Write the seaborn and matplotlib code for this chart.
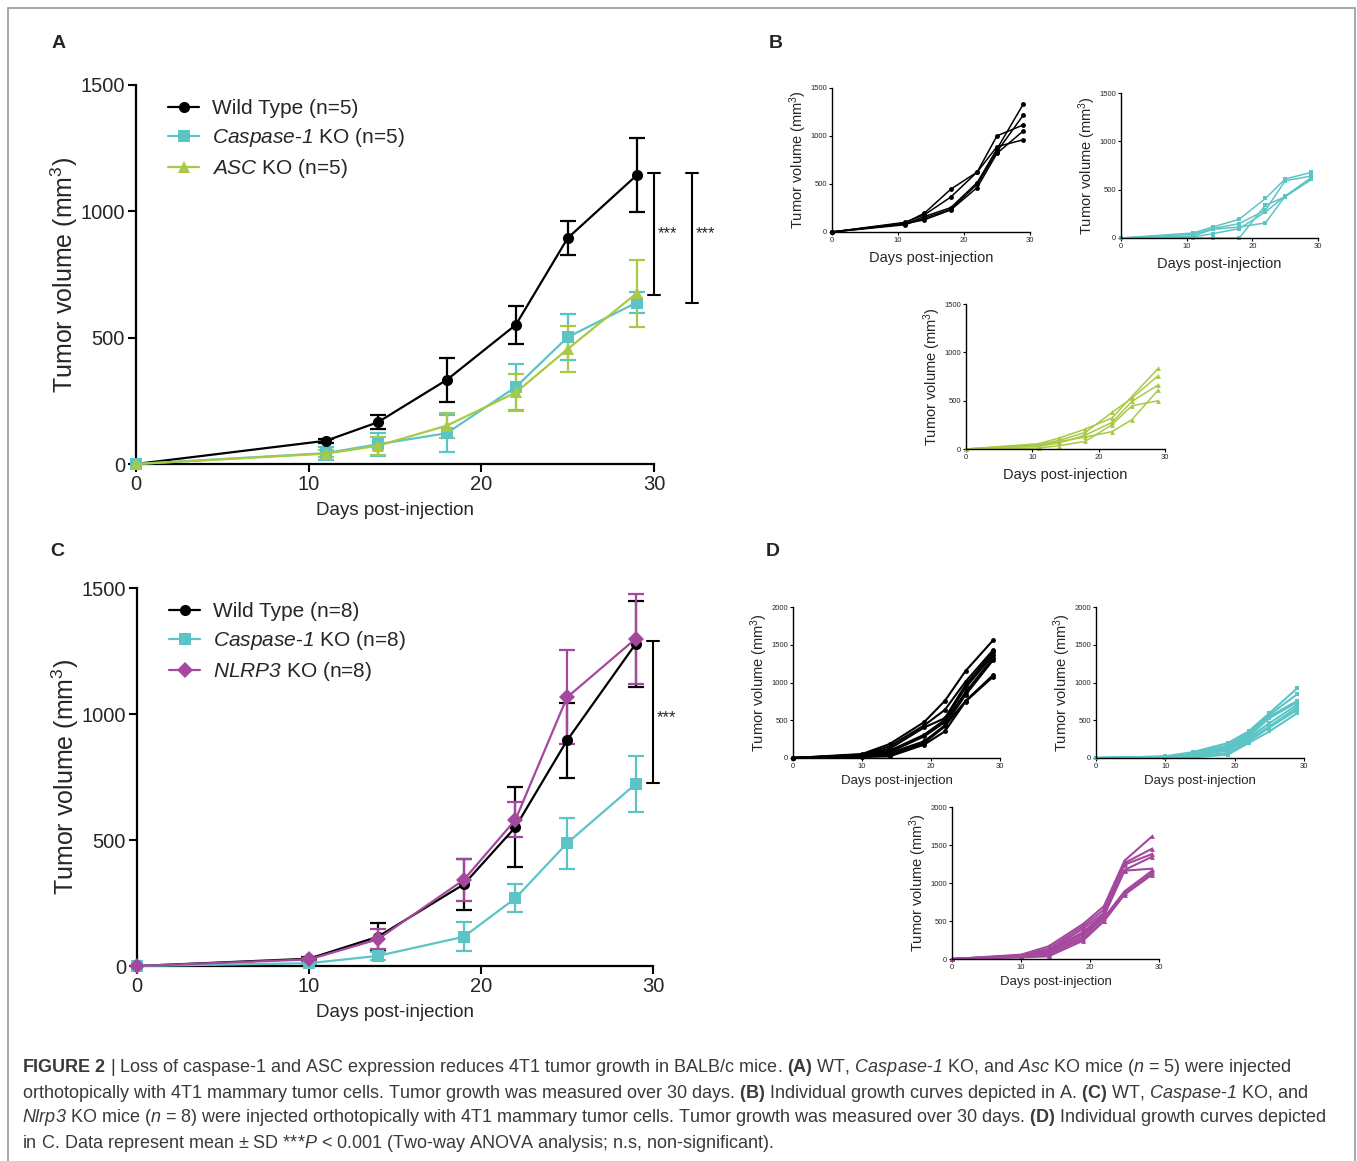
import numpy as np
import pandas as pd
import seaborn as sns
import matplotlib.pyplot as plt
from matplotlib.lines import Line2D
from matplotlib.patches import Rectangle

# ---- data ----
days_A = [0, 11, 14, 18, 22, 25, 29]
wt_A = [0, 92, 165, 333, 551, 894, 1143]
wt_A_sd = [0, 8, 27, 88, 75, 66, 147]
casp_A = [0, 43, 78, 122, 305, 502, 639]
casp_A_sd = [0, 26, 46, 73, 91, 92, 40]
asc_A = [0, 41, 72, 152, 283, 455, 676]
asc_A_sd = [0, 15, 35, 48, 72, 92, 133]

days_C = [0, 10, 14, 19, 22, 25, 29]
wt_C = [0, 29, 116, 324, 551, 895, 1279]
wt_C_sd = [0, 6, 53, 100, 159, 148, 171]
casp_C = [0, 11, 40, 116, 269, 487, 723]
casp_C_sd = [0, 4, 15, 57, 56, 101, 110]
nlrp3_C = [0, 26, 106, 342, 580, 1066, 1299]
nlrp3_C_sd = [0, 6, 40, 84, 69, 186, 179]

# individual mice, panel B (days_A)
wt_B = [[0, 93, 196, 446, 625, 1002, 1116],
        [0, 100, 179, 364, 625, 889, 961],
        [0, 82, 161, 254, 515, 865, 1335],
        [0, 75, 144, 237, 498, 838, 1219],
        [0, 86, 127, 230, 463, 820, 1054]]
casp_B = [[0, 52, 114, 194, 409, 610, 679],
          [0, 38, 97, 149, 288, 592, 641],
          [0, 21, 90, 114, 156, 433, 627],
          [0, 10, 45, 97, 270, 433, 610],
          [0, 0, 0, 0, 339, 426, 606]]
asc_B = [[0, 55, 113, 206, 320, 543, 836],
         [0, 45, 89, 172, 378, 526, 760],
         [0, 28, 62, 144, 275, 492, 664],
         [0, 34, 76, 124, 179, 303, 612],
         [0, 10, 34, 79, 251, 447, 499]]

# individual mice, panel D (days_C)
wt_D = [[0, 53, 185, 475, 756, 1152, 1560],
        [0, 44, 154, 431, 637, 1011, 1429],
        [0, 40, 123, 404, 527, 967, 1398],
        [0, 35, 97, 308, 505, 932, 1363],
        [0, 31, 79, 286, 475, 870, 1327],
        [0, 26, 66, 220, 431, 835, 1297],
        [0, 18, 44, 198, 418, 756, 1099],
        [0, 13, 22, 176, 352, 747, 1077]]
casp_D = [[0, 22, 79, 198, 352, 593, 923],
          [0, 18, 66, 167, 330, 571, 844],
          [0, 13, 62, 154, 308, 549, 756],
          [0, 13, 53, 132, 286, 527, 738],
          [0, 9, 44, 110, 264, 462, 703],
          [0, 9, 35, 97, 242, 418, 668],
          [0, 4, 22, 66, 220, 404, 637],
          [0, 4, 9, 44, 198, 352, 593]]
nlrp3_D = [[0, 57, 167, 461, 693, 1294, 1614],
           [0, 48, 136, 430, 649, 1263, 1452],
           [0, 44, 110, 399, 605, 1241, 1382],
           [0, 39, 101, 355, 583, 1171, 1346],
           [0, 35, 88, 329, 561, 1162, 1189],
           [0, 31, 66, 298, 539, 890, 1162],
           [0, 26, 57, 268, 504, 868, 1132],
           [0, 22, 35, 241, 496, 846, 1110]]

BLACK = '#000000'
CYAN = '#5cc4c4'
GREEN = '#a8c946'
PURPLE = '#a4489e'

sns.set_theme(style='ticks')
plt.rcParams['font.family'] = ['Liberation Sans', 'DejaVu Sans']
plt.rcParams['mathtext.fontset'] = 'custom'
plt.rcParams['mathtext.rm'] = 'Liberation Sans'
plt.rcParams['mathtext.it'] = 'Liberation Sans:italic'
plt.rcParams['mathtext.sf'] = 'Liberation Sans:italic'   # \mathsf = italic, digits included
plt.rcParams['mathtext.bf'] = 'Liberation Sans:bold'

W, H = 1357, 1161
fig = plt.figure(figsize=(W / 100, H / 100), dpi=100)


def px_axes(l, r, t, b):
    return fig.add_axes([l / W, 1 - b / H, (r - l) / W, (b - t) / H])


def long_frame(days, series):
    rows = []
    for name, vals in series:
        for d, v in zip(days, vals):
            rows.append((name, d, v))
    return pd.DataFrame(rows, columns=['group', 'day', 'vol'])


def main_panel(ax, days, groups, legend_labels):
    # groups: list of (name, mean, sd, color, marker)
    df = long_frame(days, [(g[0], g[1]) for g in groups])
    sns.lineplot(data=df, x='day', y='vol', hue='group', style='group',
                 palette={g[0]: g[3] for g in groups},
                 markers={g[0]: g[4] for g in groups}, dashes=False,
                 markersize=8, markeredgewidth=0, linewidth=1.6,
                 legend=False, clip_on=False, zorder=3, ax=ax)
    for name, mean, sd, col, mk in groups:
        d = np.array(days)
        m = np.array(mean)
        s = np.array(sd)
        keep = s > 0
        ax.errorbar(d[keep], m[keep], yerr=s[keep], fmt='none', ecolor=col,
                    elinewidth=1.6, capsize=6, capthick=1.6, clip_on=False, zorder=2)
    ax.set_xlim(0, 30)
    ax.set_ylim(0, 1500)
    ax.set_xticks([0, 10, 20, 30])
    ax.set_yticks([0, 500, 1000, 1500])
    ax.tick_params(labelsize=14.5, length=6, width=1.5, pad=2, color='black')
    for sp in ['left', 'bottom']:
        ax.spines[sp].set_linewidth(1.6)
        ax.spines[sp].set_color('black')
    sns.despine(ax=ax)
    ax.set_xlabel('Days post-injection', fontsize=13.5, labelpad=6)
    ax.set_ylabel('Tumor volume (mm$^3$)', fontsize=18, labelpad=0)
    handles = [Line2D([], [], color=g[3], marker=g[4], markersize=8,
                      markeredgewidth=0, linewidth=1.6) for g in groups]
    ax.legend(handles, legend_labels, loc='upper left', bbox_to_anchor=(0.062, 0.962),
              frameon=False, fontsize=15, handlelength=1.5, handletextpad=0.6,
              labelspacing=0.38, borderpad=0, borderaxespad=0)


def bracket(ax, x, y0, y1, ytext):
    ax.plot([x, x], [y0, y1], color='black', lw=1.5, clip_on=False)
    ax.plot([x - 0.35, x + 0.35], [y0, y0], color='black', lw=1.5, clip_on=False)
    ax.plot([x - 0.35, x + 0.35], [y1, y1], color='black', lw=1.5, clip_on=False)
    ax.text(x + 0.2, ytext, '***', fontsize=12, ha='left', va='center')


def small_panel(ax, days, mice, color, marker, ymax, lw):
    df = long_frame(days, [(i, v) for i, v in enumerate(mice)])
    sns.lineplot(data=df, x='day', y='vol', units='group', estimator=None,
                 color=color, marker=marker, markersize=3.5, markeredgewidth=0,
                 linewidth=lw, clip_on=False, ax=ax)
    ax.set_xlim(0, 30)
    ax.set_ylim(0, ymax)
    ax.set_xticks([0, 10, 20, 30])
    ax.set_yticks(np.arange(0, ymax + 1, 500))
    ax.tick_params(labelsize=5.5, length=2.5, width=0.8, pad=1, color='black')
    for sp in ['left', 'bottom']:
        ax.spines[sp].set_linewidth(1.0)
        ax.spines[sp].set_color('black')
    sns.despine(ax=ax)
    ax.set_ylabel('Tumor volume (mm$^3$)', fontsize=10.5, labelpad=1)


# ---- panel A ----
axA = px_axes(136, 654, 85, 464)
main_panel(axA, days_A,
           [('wt', wt_A, wt_A_sd, BLACK, 'o'),
            ('casp', casp_A, casp_A_sd, CYAN, 's'),
            ('asc', asc_A, asc_A_sd, GREEN, '^')],
           ['Wild Type (n=5)', r'$\mathsf{Caspase}$-$\mathsf{1}$ KO (n=5)',
            r'$\mathsf{ASC}$ KO (n=5)'])
bracket(axA, 30, 1153, 667, 910)
bracket(axA, 32.2, 1153, 639, 910)

# ---- panel C ----
axC = px_axes(137, 653, 588, 966)
main_panel(axC, days_C,
           [('wt', wt_C, wt_C_sd, BLACK, 'o'),
            ('casp', casp_C, casp_C_sd, CYAN, 's'),
            ('nlrp3', nlrp3_C, nlrp3_C_sd, PURPLE, 'D')],
           ['Wild Type (n=8)', r'$\mathsf{Caspase}$-$\mathsf{1}$ KO (n=8)',
            r'$\mathsf{NLRP3}$ KO (n=8)'])
bracket(axC, 30, 1288, 728, 985)

# ---- panel B ----
axB1 = px_axes(832, 1030, 88, 232)
small_panel(axB1, days_A, wt_B, BLACK, 'o', 1500, 1.1)
axB2 = px_axes(1121, 1318, 93, 238)
small_panel(axB2, days_A, casp_B, CYAN, 's', 1500, 1.1)
axB3 = px_axes(966, 1165, 304, 449)
small_panel(axB3, days_A, asc_B, GREEN, '^', 1500, 1.1)
for a in [axB1, axB2, axB3]:
    a.set_xlabel('Days post-injection', fontsize=10.5, labelpad=5)

# ---- panel D ----
axD1 = px_axes(793, 1000, 607, 758)
small_panel(axD1, days_C, wt_D, BLACK, 'o', 2000, 1.5)
axD2 = px_axes(1096, 1304, 607, 758)
small_panel(axD2, days_C, casp_D, CYAN, 's', 2000, 1.5)
axD3 = px_axes(952, 1159, 807, 959)
small_panel(axD3, days_C, nlrp3_D, PURPLE, '^', 2000, 1.5)
for a in [axD1, axD2, axD3]:
    a.set_xlabel('Days post-injection', fontsize=9.5, labelpad=4)

# ---- panel letters ----
for lab, x, y in [('A', 59, 44), ('B', 776, 44), ('C', 57, 551), ('D', 773, 551)]:
    fig.text(x / W, 1 - y / H, lab, fontsize=14, fontweight='bold',
             ha='center', va='center')

# ---- caption ----
caption = [
    r'$\mathbf{FIGURE\ 2}$ | Loss of caspase-1 and ASC expression reduces 4T1 tumor growth in BALB/c mice. '
    r'$\mathbf{(A)}$ WT, $\mathsf{Caspase}$-$\mathsf{1}$ KO, and $\mathsf{Asc}$ KO mice ($\mathsf{n}$ = 5) were injected',
    r'orthotopically with 4T1 mammary tumor cells. Tumor growth was measured over 30 days. '
    r'$\mathbf{(B)}$ Individual growth curves depicted in A. $\mathbf{(C)}$ WT, $\mathsf{Caspase}$-$\mathsf{1}$ KO, and',
    r'$\mathsf{Nlrp3}$ KO mice ($\mathsf{n}$ = 8) were injected orthotopically with 4T1 mammary tumor cells. '
    r'Tumor growth was measured over 30 days. $\mathbf{(D)}$ Individual growth curves depicted',
    r'in C. Data represent mean ± SD ***$\mathsf{P}$ < 0.001 (Two-way ANOVA analysis; n.s, non-significant).',
]
for i, line in enumerate(caption):
    fig.text(22 / W, 1 - (1068 + 25 * i) / H, line, fontsize=13, color='#3a3a3a',
             ha='left', va='center')

# ---- frame round the figure ----
fig.add_artist(Rectangle((8 / W, -0.05), (1355 - 8) / W, 1.05 - 8 / H,
                         transform=fig.transFigure, fill=False,
                         edgecolor='#9a9a9a', linewidth=1.2))

fig.savefig('out.png', dpi=100)
